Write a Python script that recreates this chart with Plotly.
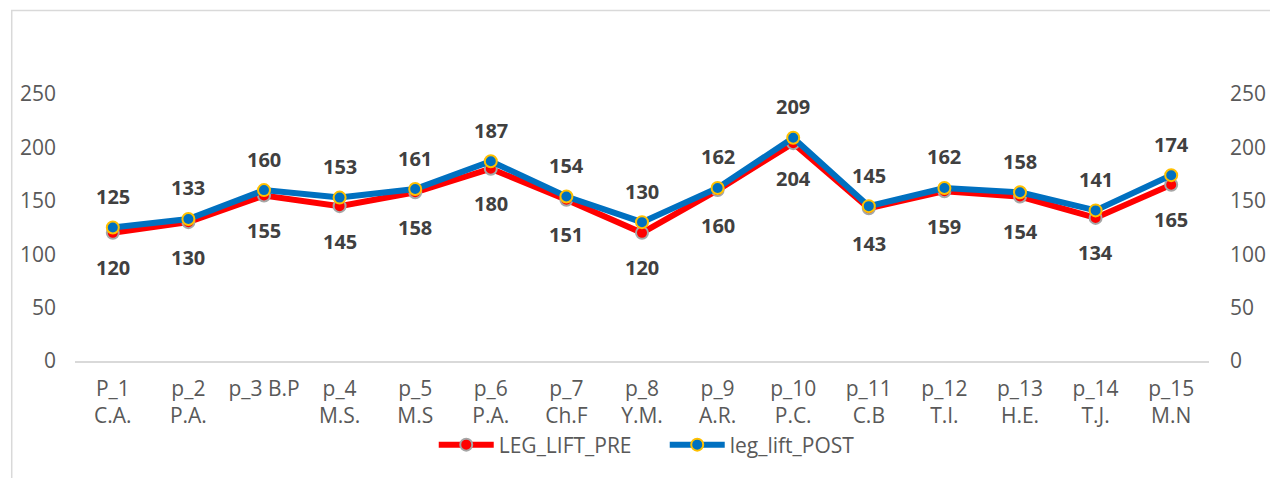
import plotly.graph_objects as go

categories = ["P_1<br>C.A.", "p_2<br>P.A.", "p_3 B.P", "p_4<br>M.S.", "p_5<br>M.S", "p_6<br>P.A.",
              "p_7<br>Ch.F", "p_8<br>Y.M.", "p_9<br>A.R.", "p_10<br>P.C.", "p_11<br>C.B",
              "p_12<br>T.I.", "p_13<br>H.E.", "p_14<br>T.J.", "p_15<br>M.N"]
pre_values = [120, 130, 155, 145, 158, 180, 151, 120, 160, 204, 143, 159, 154, 134, 165]
post_values = [125, 133, 160, 153, 161, 187, 154, 130, 162, 209, 145, 162, 158, 141, 174]
y_ticks = [0, 50, 100, 150, 200, 250]

FONT = "Open Sans"
TICK_COLOR = "#595959"
LABEL_COLOR = "#404040"
TICK_SIZE = 21
LABEL_SIZE = 20

fig = go.Figure()
fig.add_trace(go.Scatter(
    x=categories, y=pre_values, name="LEG_LIFT_PRE", mode="lines+markers",
    line=dict(color="#FF0000", width=6),
    marker=dict(color="#FF0000", size=12, line=dict(color="#A6A6A6", width=2)),
))
fig.add_trace(go.Scatter(
    x=categories, y=post_values, name="leg_lift_POST", mode="lines+markers",
    line=dict(color="#0070C0", width=6),
    marker=dict(color="#0070C0", size=12, line=dict(color="#FFC000", width=2)),
))
# invisible trace to carry the right-hand axis
fig.add_trace(go.Scatter(x=categories, y=post_values, yaxis="y2", mode="lines",
                         line=dict(width=0), opacity=0, showlegend=False, hoverinfo="skip"))

annotations = []
for c, v in zip(categories, post_values):
    annotations.append(dict(x=c, y=v, text=f"<b>{v}</b>", showarrow=False, yshift=31,
                            font=dict(family=FONT, size=LABEL_SIZE, color=LABEL_COLOR)))
for c, v in zip(categories, pre_values):
    annotations.append(dict(x=c, y=v, text=f"<b>{v}</b>", showarrow=False, yshift=-35,
                            font=dict(family=FONT, size=LABEL_SIZE, color=LABEL_COLOR)))

# page has an 8px body margin; figure coordinates = page coordinates - 8
W, H = 1270, 470
L, T = 64, 86
R = W - 1202
B = H - 353
pw, ph = W - L - R, H - T - B

def py(y):  # figure pixel y -> paper y
    return (ph - (y - T)) / ph

def px(x):
    return (x - L) / pw

fig.update_layout(
    width=W, height=H,
    margin=dict(l=L, r=R, t=T, b=B),
    paper_bgcolor="white", plot_bgcolor="white",
    font=dict(family=FONT, size=TICK_SIZE, color=TICK_COLOR),
    annotations=annotations,
    showlegend=True,
    legend=dict(orientation="h", x=px(424), xanchor="left", y=py(437), yanchor="middle",
                font=dict(family=FONT, size=TICK_SIZE, color=TICK_COLOR),
                itemwidth=55, entrywidth=161, entrywidthmode="pixels",
                bgcolor="rgba(0,0,0,0)"),
    xaxis=dict(showgrid=False, showline=True, linecolor="#D9D9D9", linewidth=1.5,
               ticks="", ticklabelstandoff=8, tickfont=dict(family=FONT, size=TICK_SIZE, color=TICK_COLOR),
               range=[-0.5, len(categories) - 0.5], fixedrange=True),
    yaxis=dict(range=[0, 250], tickvals=y_ticks, showgrid=False, showline=False, zeroline=False,
               ticks="", ticklabelstandoff=18, tickfont=dict(family=FONT, size=TICK_SIZE, color=TICK_COLOR)),
    yaxis2=dict(range=[0, 250], tickvals=y_ticks, overlaying="y", side="right", showgrid=False,
                showline=False, zeroline=False, ticks="", ticklabelstandoff=20,
                tickfont=dict(family=FONT, size=TICK_SIZE, color=TICK_COLOR)),
    shapes=[dict(type="rect", xref="paper", yref="paper",
                 x0=px(0.5), x1=px(1264),
                 y0=py(500), y1=py(2.5),
                 line=dict(color="#D9D9D9", width=1.5), layer="below")],
)

fig.write_html("out.html")
